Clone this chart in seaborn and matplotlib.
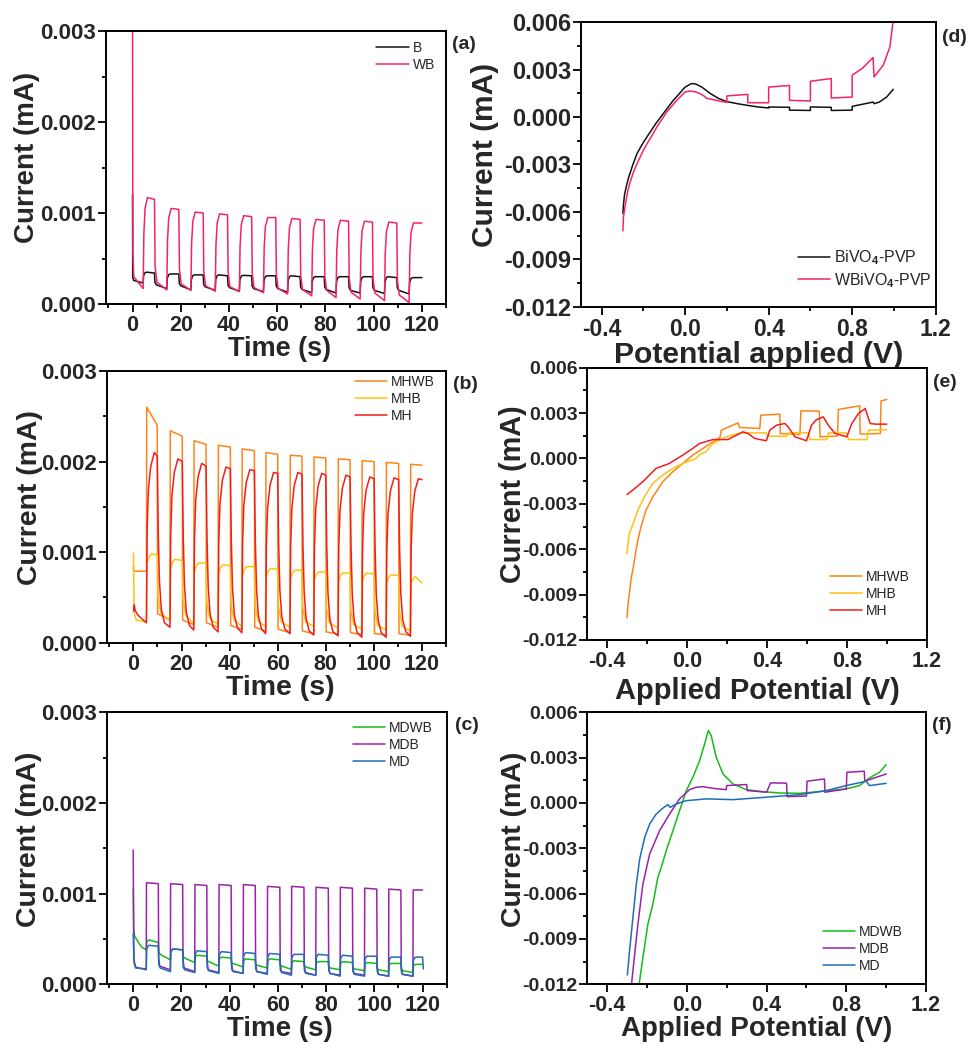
import matplotlib
matplotlib.use("Agg")
import matplotlib.pyplot as plt
import seaborn as sns
from matplotlib.ticker import MultipleLocator

# ---------------------------------------------------------------- data
# chopped chronoamperometry: light-on / light-off instants (s)
a_on = [4.4, 14.2, 24.2, 34.3, 44.3, 54.3, 64.3, 74.3, 84.4, 94.4, 104.5, 114.7]
a_off = [9.1, 19.2, 29.3, 39.4, 49.4, 59.4, 69.5, 79.5, 89.6, 99.5, 109.6, 120.0]
b_on = [5.4, 15.2, 25.1, 35.2, 45.1, 55.0, 65.1, 75.0, 85.1, 95.0, 105.1, 115.2]
b_off = [9.9, 20.3, 30.2, 40.3, 50.3, 60.0, 70.1, 80.0, 90.1, 100.1, 110.3, 120.0]
c_on = [5.4, 15.4, 25.5, 35.5, 45.6, 55.6, 65.6, 75.7, 85.8, 95.9, 105.9, 116.0]
c_off = [10.4, 20.5, 30.5, 40.6, 50.6, 60.8, 70.8, 80.9, 90.9, 101.0, 111.0, 120.0]

# (a) B
B_init_t = [0.0, 0.08, 0.4]
B_init_i = [0.0012, 0.0003, 0.00026]
B_dark_end = [0.00023, 0.00017, 0.000155, 0.00015, 0.00014, 0.000135, 0.00013, 0.000125, 0.00012, 0.00012, 0.000115, 0.00011]
B_top = [0.00035, 0.00033, 0.00032, 0.00032, 0.000315, 0.00031, 0.00031, 0.0003, 0.0003, 0.0003, 0.0003, 0.00029]
B_end = [0.00034, 0.00033, 0.00032, 0.00031, 0.00031, 0.00031, 0.0003, 0.0003, 0.0003, 0.0003, 0.00029, 0.00029]
B_dark_start = [0.00021, 0.0002, 0.00019, 0.00018, 0.00017, 0.00017, 0.00016, 0.00016, 0.00015, 0.00015, 0.00015]
# (a) WB
WB_init_t = [0.0, 0.15, 0.5]
WB_init_i = [0.0032, 0.00057, 0.0003]
WB_dark_end = [0.00017, 0.000155, 0.00015, 0.00014, 0.000135, 0.000125, 0.00011, 0.00009, 0.00007, 0.000055, 0.000037, 0.000015]
WB_top = [0.00117, 0.00105, 0.00101, 0.00099, 0.00097, 0.00095, 0.00094, 0.00093, 0.00092, 0.00091, 0.0009, 0.00089]
WB_end = [0.00115, 0.00104, 0.001, 0.00098, 0.00096, 0.00095, 0.00093, 0.00092, 0.00091, 0.0009, 0.00089, 0.00089]
WB_dark_start = [0.00024, 0.00022, 0.0002, 0.00019, 0.00018, 0.00017, 0.00016, 0.00015, 0.00013, 0.00012, 0.0001]

# (b) MHWB
MHWB_init_t = [0.0, 0.05]
MHWB_init_i = [0.00085, 0.00079]
MHWB_dark_end = [0.00079, 0.00025, 0.0002, 0.00017, 0.00015, 0.00013, 0.00011, 0.0001, 0.000095, 0.00009, 0.000085, 0.00008]
MHWB_top = [0.0026, 0.00234, 0.00223, 0.00218, 0.00214, 0.0021, 0.00207, 0.00205, 0.00203, 0.00201, 0.00199, 0.00197]
MHWB_end = [0.0024, 0.00228, 0.00219, 0.00216, 0.00212, 0.00208, 0.00206, 0.00204, 0.00202, 0.002, 0.00198, 0.00196]
MHWB_dark_start = [0.00032, 0.00025, 0.00022, 0.00019, 0.00017, 0.00015, 0.00013, 0.00012, 0.00011, 0.0001, 0.0001]
# (b) MHB
MHB_init_t = [0.0, 0.3, 1.2]
MHB_init_i = [0.00099, 0.00032, 0.00025]
MHB_dark_end = [0.00023, 0.00025, 0.00021, 0.0002, 0.00018, 0.00018, 0.00017, 0.00018, 0.00016, 0.00015, 0.00014, 0.00013]
MHB_top = [0.00098, 0.00092, 0.00088, 0.00086, 0.00084, 0.00082, 0.0008, 0.00078, 0.00077, 0.00077, 0.00075, 0.00073]
MHB_end = [0.00097, 0.00091, 0.00088, 0.00085, 0.00084, 0.00081, 0.0008, 0.00078, 0.00077, 0.00076, 0.00074, 0.00066]
MHB_dark_start = [0.00032, 0.0003, 0.00027, 0.00025, 0.00024, 0.00023, 0.00023, 0.00022, 0.0002, 0.00019, 0.00018]
# (b) MH
MH_init_t = [0.0, 0.3, 0.8, 2.0]
MH_init_i = [0.00035, 0.00042, 0.00035, 0.0003]
MH_dark_end = [0.00022, 0.00017, 0.00014, 0.00012, 0.00011, 0.0001, 0.0001, 0.000085, 0.000075, 0.00006, 0.00006, 0.00007]
MH_top = [0.0021, 0.00203, 0.00198, 0.00194, 0.00191, 0.00188, 0.00188, 0.00187, 0.00185, 0.00183, 0.00182, 0.00181]
MH_end = [0.00206, 0.002, 0.00195, 0.00192, 0.0019, 0.00187, 0.00186, 0.00185, 0.00183, 0.00181, 0.0018, 0.0018]
MH_dark_start = [0.00022, 0.00019, 0.00017, 0.00016, 0.00015, 0.00015, 0.00013, 0.00012, 0.00011, 0.00011, 0.00012]

# (c) MDWB
MDWB_init_t = [0.0, 0.15, 0.6, 2.0, 3.5]
MDWB_init_i = [0.00106, 0.0006, 0.00053, 0.00047, 0.00041]
MDWB_dark_end = [0.00038, 0.00027, 0.00024, 0.0002, 0.00019, 0.00018, 0.000165, 0.00016, 0.00016, 0.00015, 0.00014, 0.00013]
MDWB_top = [0.00049, 0.00039, 0.00032, 0.0003, 0.00028, 0.00028, 0.00026, 0.00025, 0.00025, 0.00024, 0.00023, 0.00022]
MDWB_end = [0.00046, 0.00038, 0.00031, 0.00029, 0.00027, 0.00027, 0.00025, 0.00025, 0.00024, 0.00023, 0.00023, 0.00022]
MDWB_dark_start = [0.00033, 0.00029, 0.00025, 0.00023, 0.00021, 0.0002, 0.00019, 0.00018, 0.00017, 0.00016, 0.00015]
# (c) MDB
MDB_init_t = [0.0, 0.05, 0.3, 1.0]
MDB_init_i = [0.00148, 0.00122, 0.00027, 0.00019]
MDB_dark_end = [0.00016, 0.00016, 0.00014, 0.00013, 0.00012, 0.00012, 0.00012, 0.0001, 0.0001, 0.0001, 0.00009, 0.00009]
MDB_top = [0.00112, 0.00111, 0.0011, 0.0011, 0.0011, 0.00108, 0.00108, 0.00107, 0.00107, 0.00106, 0.00105, 0.00104]
MDB_end = [0.00111, 0.0011, 0.00109, 0.00109, 0.00109, 0.00107, 0.00107, 0.00106, 0.00106, 0.00105, 0.00104, 0.00104]
MDB_dark_start = [0.0002, 0.00018, 0.00016, 0.00015, 0.00014, 0.00014, 0.00013, 0.00012, 0.00012, 0.00011, 0.00011]
# (c) MD
MD_init_t = [0.0, 0.1, 0.4, 1.0]
MD_init_i = [0.00056, 0.00043, 0.00023, 0.00018]
MD_dark_end = [0.00017, 0.00014, 0.00013, 0.00012, 0.00012, 0.00011, 0.0001, 0.0001, 0.00009, 0.00009, 0.00009, 0.00009]
MD_top = [0.00043, 0.00039, 0.00037, 0.00036, 0.00035, 0.00034, 0.00033, 0.00033, 0.00032, 0.00031, 0.0003, 0.0003]
MD_end = [0.00042, 0.00038, 0.00036, 0.00035, 0.00034, 0.00033, 0.00033, 0.00032, 0.00031, 0.00031, 0.0003, 0.0003]
MD_dark_start = [0.00018, 0.00016, 0.00015, 0.00014, 0.00014, 0.00013, 0.00012, 0.00012, 0.00011, 0.00011, 0.00011]
MD_tail_t = [120.3]
MD_tail_i = [0.00017]

# linear sweep voltammetry, (d)
d_BiVO4_v = [-0.298, -0.295, -0.29, -0.28, -0.27, -0.25, -0.23, -0.2, -0.17, -0.14, -0.1, -0.06, -0.02, 0.0, 0.03, 0.05, 0.08, 0.12, 0.16, 0.2, 0.25, 0.3, 0.35, 0.4, 0.4, 0.5, 0.5, 0.6, 0.6, 0.7, 0.7, 0.8, 0.8, 0.9, 0.905, 0.93, 0.965, 0.997]
d_BiVO4_i = [-0.0061, -0.0055, -0.0049, -0.0043, -0.0038, -0.003, -0.0023, -0.0016, -0.001, -0.0004, 0.0003, 0.001, 0.0016, 0.0019, 0.00212, 0.0021, 0.0019, 0.0015, 0.00118, 0.00098, 0.00085, 0.00074, 0.00064, 0.00058, 0.00064, 0.00062, 0.00044, 0.00042, 0.00064, 0.00062, 0.00042, 0.00044, 0.00068, 0.00095, 0.00085, 0.00095, 0.00127, 0.00176]
d_WBiVO4_v = [-0.298, -0.295, -0.287, -0.275, -0.263, -0.245, -0.231, -0.2, -0.183, -0.16, -0.136, -0.088, -0.04, 0.0, 0.024, 0.05, 0.072, 0.095, 0.1, 0.136, 0.19, 0.2, 0.2, 0.3, 0.3, 0.4, 0.4, 0.5, 0.5, 0.6, 0.6, 0.7, 0.7, 0.8, 0.8, 0.85, 0.9, 0.905, 0.949, 0.981, 0.997]
d_WBiVO4_i = [-0.0072, -0.0063, -0.0056, -0.0047, -0.0041, -0.0034, -0.00297, -0.0021, -0.0017, -0.0012, -0.00064, 0.00032, 0.00106, 0.00159, 0.00165, 0.0016, 0.00148, 0.0013, 0.0012, 0.0011, 0.00095, 0.00093, 0.00134, 0.00144, 0.00091, 0.00091, 0.0019, 0.002, 0.00106, 0.00102, 0.00227, 0.00244, 0.00121, 0.00127, 0.00265, 0.0031, 0.00377, 0.00254, 0.00329, 0.00445, 0.0062]

# (e)
e_MHWB_v = [-0.301, -0.295, -0.289, -0.28, -0.269, -0.258, -0.247, -0.231, -0.206, -0.172, -0.122, -0.072, -0.022, 0.028, 0.079, 0.129, 0.165, 0.171, 0.22, 0.255, 0.263, 0.364, 0.369, 0.464, 0.467, 0.565, 0.57, 0.662, 0.666, 0.753, 0.758, 0.864, 0.867, 0.968, 0.971, 1.0]
e_MHWB_i = [-0.01052, -0.0095, -0.00893, -0.0079, -0.00717, -0.0062, -0.0054, -0.00452, -0.00342, -0.00254, -0.00154, -0.00088, -0.00033, 0.00022, 0.00066, 0.0011, 0.0014, 0.00187, 0.00215, 0.00235, 0.00205, 0.00198, 0.00286, 0.00293, 0.00165, 0.00159, 0.00315, 0.00313, 0.00143, 0.00148, 0.00324, 0.00348, 0.00161, 0.00165, 0.0038, 0.0039]
e_MHB_v = [-0.301, -0.295, -0.289, -0.273, -0.247, -0.214, -0.172, -0.122, -0.072, -0.022, 0.045, 0.062, 0.095, 0.129, 0.145, 0.196, 0.255, 0.28, 0.397, 0.406, 0.5, 0.505, 0.607, 0.615, 0.699, 0.708, 0.8, 0.808, 0.9, 0.909, 1.0]
e_MHB_i = [-0.00629, -0.0055, -0.00496, -0.00441, -0.00342, -0.00254, -0.00165, -0.0011, -0.00066, -0.00033, 0.0, 0.00025, 0.00044, 0.00099, 0.0011, 0.00143, 0.00165, 0.00169, 0.00169, 0.00147, 0.00147, 0.00169, 0.0017, 0.00125, 0.00125, 0.00169, 0.00169, 0.00125, 0.00125, 0.00187, 0.0019]
e_MH_v = [-0.301, -0.273, -0.222, -0.156, -0.089, -0.022, 0.028, 0.062, 0.129, 0.204, 0.28, 0.305, 0.339, 0.397, 0.414, 0.448, 0.49, 0.506, 0.54, 0.598, 0.623, 0.648, 0.682, 0.707, 0.741, 0.8, 0.825, 0.858, 0.892, 0.917, 0.942, 1.0]
e_MH_i = [-0.00238, -0.0021, -0.00154, -0.00066, -0.00033, 0.00022, 0.00066, 0.00099, 0.00125, 0.00125, 0.00176, 0.00165, 0.00132, 0.00117, 0.00187, 0.0022, 0.00231, 0.00209, 0.00143, 0.00117, 0.0022, 0.00257, 0.00275, 0.0022, 0.00165, 0.00143, 0.00231, 0.00297, 0.0033, 0.00231, 0.00227, 0.00227]

# (f)
f_MDWB_v = [-0.245, -0.221, -0.196, -0.171, -0.146, -0.129, -0.104, -0.07, -0.037, -0.003, 0.03, 0.064, 0.089, 0.107, 0.122, 0.147, 0.181, 0.231, 0.298, 0.381, 0.465, 0.565, 0.632, 0.716, 0.799, 0.866, 0.916, 0.967, 1.0]
f_MDWB_i = [-0.0125, -0.01023, -0.00802, -0.0067, -0.00493, -0.00427, -0.00316, -0.00183, -0.00051, 0.00082, 0.0017, 0.00281, 0.00391, 0.0048, 0.00446, 0.00303, 0.00192, 0.00126, 0.00088, 0.00075, 0.00066, 0.00064, 0.00071, 0.00082, 0.00093, 0.00115, 0.00166, 0.00203, 0.00254]
f_MDB_v = [-0.282, -0.264, -0.246, -0.221, -0.187, -0.137, -0.087, -0.037, 0.013, 0.047, 0.08, 0.13, 0.197, 0.2, 0.3, 0.303, 0.4, 0.42, 0.5, 0.503, 0.6, 0.603, 0.69, 0.693, 0.8, 0.803, 0.89, 0.893, 1.0]
f_MDB_i = [-0.0125, -0.01023, -0.00802, -0.00537, -0.00338, -0.00183, -0.00073, 0.00027, 0.00088, 0.00104, 0.00108, 0.00097, 0.00088, 0.00115, 0.00122, 0.00082, 0.00071, 0.00133, 0.00131, 0.00042, 0.00046, 0.00144, 0.00159, 0.00071, 0.00093, 0.00203, 0.0021, 0.00144, 0.00192]
f_MD_v = [-0.299, -0.288, -0.271, -0.254, -0.237, -0.212, -0.187, -0.154, -0.12, -0.095, -0.084, -0.054, -0.003, 0.097, 0.231, 0.398, 0.565, 0.699, 0.799, 0.9, 0.916, 1.0]
f_MD_i = [-0.01138, -0.00979, -0.00758, -0.00537, -0.00371, -0.00228, -0.00139, -0.00073, -0.00033, -0.00011, -0.00029, -0.00007, 0.00015, 0.00027, 0.00022, 0.00038, 0.00055, 0.00082, 0.00115, 0.00144, 0.00115, 0.0013]

ca_xticks = [0, 20, 40, 60, 80, 100, 120]
ca_yticks = [0.000, 0.001, 0.002, 0.003]
lsv_xticks = [-0.4, 0.0, 0.4, 0.8, 1.2]
lsv_yticks = [-0.012, -0.009, -0.006, -0.003, 0.000, 0.003, 0.006]

# ---------------------------------------------------------------- helpers
def chop_trace(t_on, t_off, init_t, init_i, dark_end, top, end, dark_start, rise, fall):
    ts, vs = list(init_t), list(init_i)
    for k in range(len(t_on)):
        lo = dark_end[k]
        ts.append(t_on[k]); vs.append(lo)
        for dt, f in rise:
            ts.append(t_on[k] + dt); vs.append(lo + f * (top[k] - lo))
        ts.append(t_off[k]); vs.append(end[k])
        if k < len(dark_start):
            for dt, f in fall:
                ts.append(t_off[k] + dt); vs.append(end[k] - f * (end[k] - dark_start[k]))
    return ts, vs


sns.set_style("ticks")
plt.rcParams.update({
    "font.family": ["Liberation Sans", "DejaVu Sans"],
    "font.weight": "bold",
    "axes.unicode_minus": False,
    "mathtext.fontset": "custom",
    "mathtext.rm": "Liberation Sans",
    "mathtext.it": "Liberation Sans:italic",
    "mathtext.bf": "Liberation Sans:bold",
})

fig = plt.figure(figsize=(9.71, 10.44), dpi=100)
W, H = 971.0, 1044.0


def add_ax(l, t, r, b):
    return fig.add_axes([l / W, 1 - b / H, (r - l) / W, (b - t) / H])


ax_a = add_ax(106, 31, 446, 304)
ax_d = add_ax(580.7, 22.3, 935.7, 306.7)
ax_b = add_ax(107, 371, 446, 642.7)
ax_e = add_ax(587.3, 367.7, 926.7, 640)
ax_c = add_ax(106.7, 712.3, 446.7, 984.3)
ax_f = add_ax(587.3, 712.3, 926, 984.3)

LW = 1.1
col = {
    "B": "#111111", "WB": "#F5226E",
    "MHWB": "#FF8418", "MHB": "#FFC20E", "MH": "#F41C1C",
    "MDWB": "#17BB17", "MDB": "#9B22A8", "MD": "#1E6DB8",
}


def draw(ax, x, y, name, label=None):
    sns.lineplot(x=x, y=y, sort=False, estimator=None, ax=ax, color=col[name],
                 linewidth=LW, label=label if label is not None else name)


# ---- (a)
t, v = chop_trace(a_on, a_off, B_init_t, B_init_i, B_dark_end, B_top, B_end, B_dark_start,
                  [(0.2, 0.7), (0.8, 0.95), (1.5, 1.0)], [(0.2, 0.8), (0.8, 1.0)])
draw(ax_a, t, v, "B")
t, v = chop_trace(a_on, a_off, WB_init_t, WB_init_i, WB_dark_end, WB_top, WB_end, WB_dark_start,
                  [(0.3, 0.6), (0.8, 0.88), (1.8, 1.0)], [(0.25, 0.8), (1.0, 1.0)])
draw(ax_a, t, v, "WB")

# ---- (b)
t, v = chop_trace(b_on, b_off, MHWB_init_t, MHWB_init_i, MHWB_dark_end, MHWB_top, MHWB_end, MHWB_dark_start,
                  [(0.12, 1.0)], [(0.15, 1.0)])
draw(ax_b, t, v, "MHWB")
t, v = chop_trace(b_on, b_off, MHB_init_t, MHB_init_i, MHB_dark_end, MHB_top, MHB_end, MHB_dark_start,
                  [(0.15, 0.85), (1.0, 0.95), (2.0, 1.0)], [(0.3, 0.7), (1.5, 1.0)])
draw(ax_b, t, v, "MHB")
t, v = chop_trace(b_on, b_off, MH_init_t, MH_init_i, MH_dark_end, MH_top, MH_end, MH_dark_start,
                  [(0.3, 0.55), (0.8, 0.78), (1.8, 0.92), (3.3, 1.0)],
                  [(0.4, 0.45), (0.9, 0.75), (1.7, 0.92), (3.0, 1.0)])
draw(ax_b, t, v, "MH")

# ---- (c)
t, v = chop_trace(c_on, c_off, MDWB_init_t, MDWB_init_i, MDWB_dark_end, MDWB_top, MDWB_end, MDWB_dark_start,
                  [(0.2, 0.8), (1.0, 1.0)], [(0.2, 0.8), (0.8, 1.0)])
draw(ax_c, t, v, "MDWB")
t, v = chop_trace(c_on, c_off, MDB_init_t, MDB_init_i, MDB_dark_end, MDB_top, MDB_end, MDB_dark_start,
                  [(0.1, 1.0)], [(0.15, 0.9), (0.6, 1.0)])
draw(ax_c, t, v, "MDB")
t, v = chop_trace(c_on, c_off, MD_init_t, MD_init_i, MD_dark_end, MD_top, MD_end, MD_dark_start,
                  [(0.2, 0.85), (1.0, 1.0)], [(0.2, 0.85), (0.8, 1.0)])
draw(ax_c, t + MD_tail_t, v + MD_tail_i, "MD")

# ---- LSV
draw(ax_d, d_BiVO4_v, d_BiVO4_i, "B", r"BiVO$_4$-PVP")
draw(ax_d, d_WBiVO4_v, d_WBiVO4_i, "WB", r"WBiVO$_4$-PVP")
draw(ax_e, e_MHWB_v, e_MHWB_i, "MHWB")
draw(ax_e, e_MHB_v, e_MHB_i, "MHB")
draw(ax_e, e_MH_v, e_MH_i, "MH")
draw(ax_f, f_MDWB_v, f_MDWB_i, "MDWB")
draw(ax_f, f_MDB_v, f_MDB_i, "MDB")
draw(ax_f, f_MD_v, f_MD_i, "MD")


# ---------------------------------------------------------------- styling
def style(ax, kind, xlabel, ylabel, panel, xl_pos, yl_pos, tag_pos, xfs, yfs, xlfs, ylfs):
    for s in ax.spines.values():
        s.set_linewidth(1.4)
        s.set_color("black")
        s.set_visible(True)
    if kind == "ca":
        ax.set_xlim(-11, 130)
        ax.set_ylim(0, 0.003)
        ax.set_xticks(ca_xticks)
        ax.set_xticklabels([f"{x:d}" for x in ca_xticks])
        ax.set_yticks(ca_yticks)
        ax.set_yticklabels([f"{y:.3f}" for y in ca_yticks])
        ax.xaxis.set_minor_locator(MultipleLocator(10))
        ax.yaxis.set_minor_locator(MultipleLocator(0.0005))
    else:
        ax.set_xlim(-0.5, 1.2)
        ax.set_ylim(-0.012, 0.006)
        ax.set_xticks(lsv_xticks)
        ax.set_xticklabels([f"{x:.1f}" for x in lsv_xticks])
        ax.set_yticks(lsv_yticks)
        ax.set_yticklabels([f"{y:.3f}" for y in lsv_yticks])
        ax.xaxis.set_minor_locator(MultipleLocator(0.2))
        ax.yaxis.set_minor_locator(MultipleLocator(0.0015))
    ax.tick_params(which="both", direction="out", top=False, right=False,
                   width=1.3, color="black")
    ax.tick_params(which="major", length=5.5)
    ax.tick_params(which="minor", length=3)
    ax.tick_params(axis="x", which="major", labelsize=xfs, pad=2.5)
    ax.tick_params(axis="y", which="major", labelsize=yfs, pad=1.5)
    for lbl in ax.get_xticklabels() + ax.get_yticklabels():
        lbl.set_fontweight("bold")
    ax.set_xlabel(xlabel, fontsize=xlfs, fontweight="bold")
    ax.set_ylabel(ylabel, fontsize=ylfs, fontweight="bold")
    ax.xaxis.set_label_coords(*xl_pos)
    ax.yaxis.set_label_coords(*yl_pos)
    ax.text(tag_pos[0], tag_pos[1], panel, transform=ax.transAxes, fontsize=14,
            fontweight="bold", ha="left", va="center")


style(ax_a, "ca", "Time (s)", "Current (mA)", "(a)", (0.51, -0.116), (-0.194, 0.537), (1.018, 0.949), 15.5, 16, 19.5, 20)
style(ax_b, "ca", "Time (s)", "Current (mA)", "(b)", (0.51, -0.118), (-0.189, 0.534), (1.02, 0.952), 15.5, 16, 20.5, 20.4)
style(ax_c, "ca", "Time (s)", "Current (mA)", "(c)", (0.51, -0.116), (-0.19, 0.532), (1.024, 0.95), 15.5, 16, 20, 20.5)
style(ax_d, "lsv", "Potential applied (V)", "Current (mA)", "(d)", (0.5, -0.12), (-0.23, 0.533), (1.018, 0.945), 16.5, 17, 21.7, 21.5)
style(ax_e, "lsv", "Applied Potential (V)", "Current (mA)", "(e)", (0.5, -0.136), (-0.178, 0.536), (1.019, 0.947), 15.5, 14, 21, 20.8)
style(ax_f, "lsv", "Applied Potential (V)", "Current (mA)", "(f)", (0.5, -0.117), (-0.179, 0.532), (1.018, 0.95), 15.5, 14, 20, 20.5)


def legend(ax, anchor, fs, hl):
    ax.legend(loc="center left", bbox_to_anchor=anchor, frameon=False,
              prop={"size": fs, "weight": "normal"}, handlelength=hl,
              handletextpad=0.3, labelspacing=0.22, borderpad=0.0, borderaxespad=0.0)


legend(ax_a, (0.794, 0.908), 10, 2.35)
legend(ax_b, (0.732, 0.897), 10, 2.3)
legend(ax_c, (0.724, 0.88), 10, 2.3)
legend(ax_d, (0.611, 0.132), 11.5, 2.0)
legend(ax_e, (0.715, 0.168), 10, 2.3)
legend(ax_f, (0.696, 0.13), 10, 2.3)

fig.savefig("out.png", dpi=100, facecolor="white")
